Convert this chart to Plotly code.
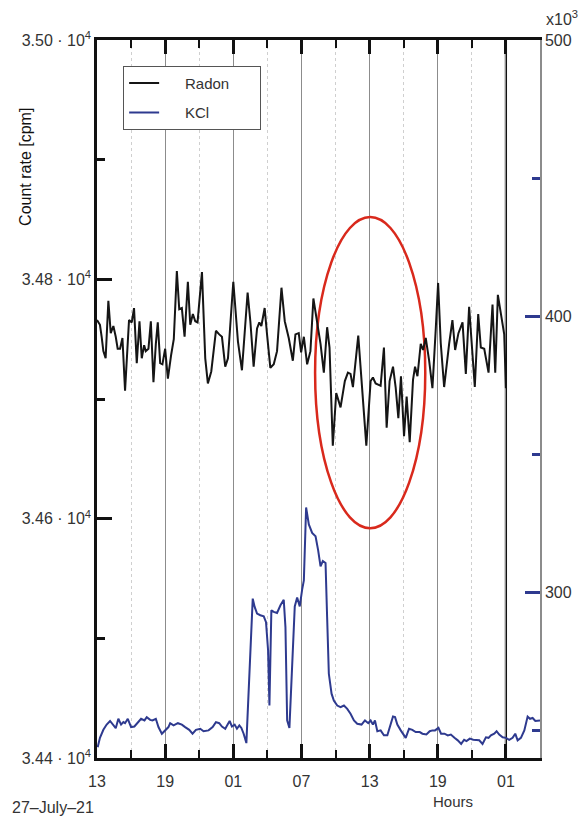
import plotly.graph_objects as go

# ---------------- data ----------------
# hours since 13:00 on 27 July 2021
radon_hours = [0.0, 0.26, 0.41, 0.56, 0.76, 1.0, 1.21, 1.44, 1.65, 1.82, 2.03, 2.24, 2.47, 2.68, 2.82,
               3.06, 3.26, 3.5, 3.74, 3.94, 4.15, 4.29, 4.53, 4.74, 4.97, 5.18, 5.35, 5.56, 5.76, 6.0,
               6.24, 6.53, 6.76, 7.03, 7.24, 7.47, 7.71, 8.0, 8.21, 8.44, 8.65, 8.85, 9.24, 9.53, 9.76,
               10.06, 10.47, 10.76, 11.0, 11.29, 11.53, 12.0, 12.41, 12.76, 13.26, 13.5, 13.79, 14.09,
               14.29, 14.47, 14.76, 14.97, 15.26, 15.56, 15.85, 16.24, 16.53, 16.88, 17.24, 17.47,
               17.76, 17.97, 18.21, 18.5, 18.79, 19.05, 19.68, 19.97, 20.26, 20.47, 20.76, 21.06,
               21.44, 21.82, 22.09, 22.32, 22.53, 23.0, 23.35, 23.71, 24.09, 24.29, 24.53, 24.97,
               25.26, 25.5, 25.76, 26.06, 26.29, 26.53, 26.76, 27.03, 27.26, 27.53, 27.82, 28.0,
               28.21, 28.5, 28.71, 28.94, 29.24, 29.53, 29.82, 30.03, 30.26, 30.56, 31.0, 31.29,
               31.53, 31.82, 32.18, 32.47, 32.76, 33.0, 33.26, 33.56, 33.79, 34.09, 34.47, 34.82,
               35.06, 35.29, 35.56, 35.85, 36.0]
radon_cpm = [34766, 34762, 34752, 34740, 34734, 34782, 34755, 34761, 34752, 34742, 34742, 34751, 34707,
             34744, 34766, 34764, 34776, 34730, 34765, 34734, 34745, 34740, 34742, 34765, 34714, 34746,
             34764, 34730, 34729, 34742, 34717, 34737, 34750, 34807, 34775, 34776, 34752, 34798, 34762,
             34771, 34765, 34764, 34806, 34734, 34713, 34723, 34757, 34754, 34752, 34727, 34734, 34798,
             34748, 34724, 34789, 34765, 34727, 34759, 34764, 34761, 34776, 34754, 34726, 34729, 34740,
             34793, 34765, 34751, 34732, 34754, 34755, 34739, 34752, 34729, 34740, 34784, 34746, 34722,
             34760, 34743, 34661, 34705, 34693, 34715, 34722, 34721, 34710, 34753, 34710, 34661, 34715,
             34718, 34713, 34711, 34743, 34676, 34715, 34727, 34710, 34684, 34719, 34669, 34702, 34664,
             34716, 34727, 34719, 34746, 34741, 34751, 34732, 34709, 34758, 34797, 34747, 34710, 34746,
             34766, 34741, 34755, 34764, 34721, 34777, 34746, 34710, 34771, 34743, 34742, 34722, 34779,
             34722, 34787, 34769, 34754, 34709]

kcl_hours = [0.06, 0.26, 0.56, 0.85, 1.15, 1.44, 1.65, 1.88, 2.12, 2.32, 2.47, 2.71, 3.0, 3.29, 3.59,
             3.88, 4.18, 4.38, 4.68, 4.88, 5.18, 5.41, 5.71, 6.0, 6.29, 6.44, 6.74, 7.12, 7.47, 7.76,
             8.12, 8.41, 8.71, 9.09, 9.38, 9.82, 10.18, 10.47, 10.76, 11.0, 11.29, 11.5, 11.68, 11.88,
             12.12, 12.32, 12.53, 12.71, 12.91, 13.15, 13.35, 13.71, 13.88, 14.09, 14.38, 14.68, 14.88,
             15.06, 15.18, 15.35, 15.56, 15.85, 16.15, 16.44, 16.59, 16.74, 16.94, 17.18, 17.41, 17.62,
             17.85, 18.06, 18.21, 18.41, 18.65, 18.94, 19.24, 19.47, 19.68, 19.88, 20.12, 20.26, 20.41,
             20.65, 20.85, 21.15, 21.44, 21.74, 22.03, 22.32, 22.62, 22.91, 23.29, 23.59, 23.88, 24.09,
             24.29, 24.47, 24.68, 24.97, 25.26, 25.56, 25.85, 26.06, 26.24, 26.44, 26.74, 26.94, 27.18,
             27.47, 27.76, 28.06, 28.41, 28.65, 29.0, 29.29, 29.53, 29.76, 30.06, 30.29, 30.59, 30.88,
             31.15, 31.47, 31.76, 32.06, 32.32, 32.53, 32.82, 33.12, 33.35, 33.65, 33.94, 34.24, 34.47,
             34.68, 34.97, 35.18, 35.41, 35.71, 36.0, 36.29, 36.59, 36.82, 37.03, 37.32, 37.62, 37.91,
             38.12, 38.35, 38.59, 38.88, 39.0]
kcl_k = [243.9, 247.3, 250.2, 252.1, 253.4, 251.8, 250.8, 254.2, 252.1, 253.0, 252.6, 254.2, 251.2, 251.4,
         253.0, 254.2, 253.6, 254.8, 253.8, 253.6, 254.2, 251.2, 248.8, 250.0, 251.2, 252.6, 251.8, 252.6,
         252.1, 251.2, 250.2, 248.8, 250.2, 250.6, 249.7, 250.0, 251.2, 253.0, 252.6, 251.4, 250.6, 252.1,
         253.4, 251.4, 252.1, 250.6, 251.8, 250.9, 248.8, 245.4, 265.7, 297.7, 294.7, 292.3, 291.7, 291.3,
         289.2, 279.0, 259.0, 293.5, 292.9, 292.5, 295.3, 297.3, 287.4, 253.6, 250.9, 272.9, 294.9, 298.1,
         294.9, 301.0, 304.3, 330.7, 324.6, 321.5, 320.3, 315.2, 309.4, 311.3, 310.6, 291.0, 270.5, 263.3,
         260.8, 259.0, 258.4, 259.0, 257.8, 256.0, 253.6, 252.4, 252.1, 253.6, 252.6, 253.6, 252.1, 253.6,
         249.7, 250.0, 248.2, 248.2, 252.1, 255.0, 254.8, 252.1, 250.0, 248.8, 247.3, 250.6, 250.2, 249.4,
         249.4, 248.8, 248.5, 249.7, 250.0, 250.0, 250.9, 248.8, 248.8, 248.2, 248.5, 247.3, 246.4, 245.1,
         246.6, 246.1, 247.0, 246.6, 246.6, 246.4, 245.1, 247.5, 247.3, 248.2, 248.8, 249.7, 248.5, 247.5,
         247.3, 246.6, 247.3, 248.8, 246.4, 247.3, 250.0, 255.0, 254.2, 254.5, 253.4, 253.6, 253.6]

series_names = ["Radon", "KCl"]

x_major = [0, 6, 12, 18, 24, 30, 36]
x_labels = ["13", "19", "01", "07", "13", "19", "01"]
x_minor = [3, 9, 15, 21, 27, 33, 39]

y_left_vals = [34400, 34600, 34800, 35000]
y_left_text = ["3.44 \u00b7 10<sup>4</sup>", "3.46 \u00b7 10<sup>4</sup>",
               "3.48 \u00b7 10<sup>4</sup>", "3.50 \u00b7 10<sup>4</sup>"]
y_left_minor = [34500, 34700, 34900]
y_right_vals = [300, 400, 500]
y_right_minor = [250, 350, 450]

# highlighted region (ellipse)
ell_x = [19.2, 28.9]
ell_y = [34592, 34852]

FONT = "Liberation Sans, Arial, Helvetica, sans-serif"
TXT = "#333333"
BLUE = "#2e3a8f"
NB = "\u00a0"


def legend_label(name, width_chars=11):
    # pad the legend text so the box matches the reference width
    return NB * 5 + name + NB * max(0, width_chars - len(name))


fig = go.Figure()
fig.add_trace(go.Scatter(x=radon_hours, y=radon_cpm, mode="lines", name=legend_label(series_names[0]),
                         legendgroup="a", line=dict(color="#151515", width=2)))
fig.add_trace(go.Scatter(x=kcl_hours, y=kcl_k, mode="lines", name=legend_label(series_names[1], 13),
                         yaxis="y2", legendgroup="b", line=dict(color=BLUE, width=2)))

fig.update_layout(
    width=580, height=813,
    margin=dict(l=89, r=48, t=32, b=63, autoexpand=False),
    paper_bgcolor="white", plot_bgcolor="white",
    font=dict(family=FONT, size=15, color=TXT),
    showlegend=True,
    legend=dict(x=0.059, y=0.964, xanchor="left", yanchor="top",
                bgcolor="white", bordercolor="#555555", borderwidth=1,
                font=dict(size=15, color=TXT), traceorder="grouped", tracegroupgap=7),
    xaxis=dict(range=[0, 39], tickmode="array", tickvals=x_major, ticktext=x_labels,
               ticks="inside", ticklen=14, tickwidth=2.5, tickcolor="#111",
               showline=True, linecolor="#111", linewidth=2.5, mirror="ticks",
               showgrid=True, gridcolor="#8c8c8c", gridwidth=1, zeroline=False,
               ticklabelstandoff=7, automargin=False,
               minor=dict(tickmode="array", tickvals=x_minor, ticks="inside", ticklen=8,
                          tickwidth=2, tickcolor="#111", showgrid=True, gridcolor="#cfcfcf",
                          griddash="dot", gridwidth=1),
               tickfont=dict(size=16, color=TXT)),
    yaxis=dict(range=[34400, 35000], tickmode="array", tickvals=y_left_vals, ticktext=y_left_text,
               ticks="inside", ticklen=15, tickwidth=2.5, tickcolor="#111", automargin=False,
               showline=True, linecolor="#111", linewidth=2.5, showgrid=False, zeroline=False,
               minor=dict(tickmode="array", tickvals=y_left_minor, ticks="inside", ticklen=8,
                          tickwidth=2.5, tickcolor="#111", showgrid=False),
               tickfont=dict(size=16, color=TXT)),
    yaxis2=dict(range=[240, 500], overlaying="y", side="right", tickmode="array", automargin=False,
                tickvals=y_right_vals, ticks="inside", ticklen=15, tickwidth=2.5, tickcolor=BLUE,
                showline=True, linecolor="#8c8c8c", linewidth=1.5, showgrid=False, zeroline=False,
                minor=dict(tickmode="array", tickvals=y_right_minor, ticks="inside", ticklen=8,
                           tickwidth=2.5, tickcolor=BLUE, showgrid=False),
                tickfont=dict(size=16, color=TXT)),
)

# thick black line at day change
fig.add_shape(type="line", xref="x", yref="paper", x0=36, x1=36, y0=0, y1=1,
              line=dict(color="#111", width=2.2), layer="between")
# red ellipse
fig.add_shape(type="circle", xref="x", yref="y", x0=ell_x[0], x1=ell_x[1], y0=ell_y[0], y1=ell_y[1],
              line=dict(color="#d9291c", width=2.5), layer="between")

fig.add_annotation(text="Count rate [cpm]", textangle=-90, xref="paper", yref="paper",
                   x=-0.163, y=0.823, xanchor="center", yanchor="middle", showarrow=False,
                   font=dict(size=16, color="#111"))
fig.add_annotation(text="x10<sup>3</sup>", xref="paper", yref="paper", x=1.01, y=1.03,
                   xanchor="left", yanchor="middle", showarrow=False, font=dict(size=16, color=TXT))
fig.add_annotation(text="Hours", xref="paper", yref="paper", x=0.803, y=-0.061,
                   xanchor="center", yanchor="middle", showarrow=False, font=dict(size=15, color=TXT))
fig.add_annotation(text="27\u2013July\u201321", xref="paper", yref="paper", x=-0.197, y=-0.069,
                   xanchor="left", yanchor="middle", showarrow=False, font=dict(size=16, color=TXT))

fig.write_html("out.html")
